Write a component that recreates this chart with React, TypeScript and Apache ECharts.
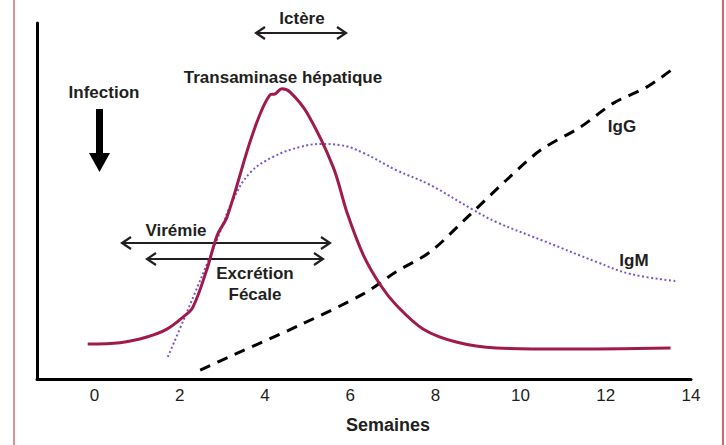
import React, { useEffect, useRef } from "react";
import * as echarts from "echarts";

const weekTicks = [0, 2, 4, 6, 8, 10, 12, 14];

const transaminase: [number, number][] = [
  [-0.16, 9.8], [0.6, 10.2], [1.23, 11.8], [1.7, 14.0], [2.08, 17.4], [2.31, 20.2],
  [2.64, 30.9], [2.88, 40.4], [3.11, 45.5], [3.72, 69.1], [4.12, 79.8], [4.24, 80.1],
  [4.4, 81.5], [4.59, 80.6], [4.99, 74.7], [5.6, 59.6], [5.93, 46.6], [6.31, 34.8],
  [6.71, 26.4], [7.08, 20.8], [7.72, 14.0], [8.49, 10.4], [9.43, 8.7], [11.0, 8.4],
  [13.52, 8.7],
];

const igm: [number, number][] = [
  [1.72, 6.2], [2.12, 17.4], [2.88, 39.3], [3.25, 50.3], [3.65, 57.9], [4.19, 62.4],
  [4.83, 65.2], [5.3, 66.0], [5.77, 65.7], [6.31, 63.5], [7.08, 58.7], [7.88, 54.5],
  [8.89, 47.5], [9.43, 44.1], [10.6, 38.5], [11.78, 32.9], [12.58, 29.5], [13.66, 27.5],
];

const igg: [number, number][] = [
  [2.48, 2.5], [3.25, 6.7], [4.83, 15.2], [6.31, 23.9], [7.08, 30.1], [7.88, 35.7],
  [8.66, 44.4], [9.67, 55.9], [10.47, 64.3], [11.41, 70.8], [12.18, 77.5],
  [12.96, 82.0], [13.54, 86.8],
];

const FONT = "'Liberation Sans', Arial, sans-serif";
const TXT = "#231f20";

function dArrow(x1: number, x2: number, y: number) {
  const h = 6;
  const w = 9;
  const st = { stroke: TXT, lineWidth: 2.2, fill: "none" };
  return [
    { type: "line", shape: { x1, y1: y, x2, y2: y }, style: st },
    { type: "polyline", shape: { points: [[x1 + w, y - h], [x1, y], [x1 + w, y + h]] }, style: st },
    { type: "polyline", shape: { points: [[x2 - w, y - h], [x2, y], [x2 - w, y + h]] }, style: st },
  ];
}

function label(text: string, x: number, y: number, size = 17) {
  return {
    type: "text",
    x,
    y,
    style: {
      text,
      fill: TXT,
      font: `bold ${size}px ${FONT}`,
      textAlign: "center",
      textVerticalAlign: "middle",
    },
  };
}

export default function App() {
  const ref = useRef<HTMLDivElement>(null);
  useEffect(() => {
    document.body.style.margin = "0";
    const chart = echarts.init(ref.current!, null, { renderer: "svg" });
    chart.setOption({
      animation: false,
      backgroundColor: "#ffffff",
      grid: { left: 37, right: 35, top: 23, bottom: 66 },
      xAxis: {
        type: "value",
        min: -1.35,
        max: 14,
        splitLine: { show: false },
        axisLine: { show: true, onZero: false, lineStyle: { color: "#000", width: 3 } },
        axisTick: { show: false },
        axisLabel: {
          customValues: weekTicks,
          color: TXT,
          fontFamily: FONT,
          fontSize: 17,
          margin: 8,
        },
      },
      yAxis: {
        type: "value",
        min: 0,
        max: 100,
        splitLine: { show: false },
        axisLine: { show: true, onZero: false, lineStyle: { color: "#000", width: 3 } },
        axisTick: { show: false },
        axisLabel: { show: false },
      },
      series: [
        {
          name: "IgM",
          type: "line",
          data: igm,
          smooth: 0.4,
          showSymbol: false,
          lineStyle: { color: "#7b55c9", width: 2, type: [2, 2.5] },
          z: 2,
        },
        {
          name: "IgG",
          type: "line",
          data: igg,
          smooth: 0.3,
          showSymbol: false,
          lineStyle: { color: "#000", width: 3, type: [11, 8] },
          z: 3,
        },
        {
          name: "Transaminase hépatique",
          type: "line",
          data: transaminase,
          smooth: 0.35,
          showSymbol: false,
          lineStyle: { color: "#a01a4c", width: 3 },
          z: 4,
        },
      ],
      graphic: [
        { type: "line", shape: { x1: 14, y1: 0, x2: 14, y2: 445 }, style: { stroke: "#d26a78", lineWidth: 1.5 } },
        { type: "line", shape: { x1: 723, y1: 0, x2: 723, y2: 445 }, style: { stroke: "#cc2a38", lineWidth: 1.5 } },
        label("Ictère", 302, 18),
        ...dArrow(256, 346, 33),
        label("Transaminase hépatique", 283, 77),
        label("Infection", 104, 92),
        { type: "rect", shape: { x: 96, y: 109, width: 7, height: 46 }, style: { fill: "#000" } },
        { type: "polygon", shape: { points: [[89, 153], [110, 153], [99.5, 172]] }, style: { fill: "#000" } },
        label("Virémie", 176, 230),
        ...dArrow(122, 330, 243),
        ...dArrow(147, 323, 259),
        label("Excrétion", 255, 273),
        label("Fécale", 255, 294),
        label("IgG", 622, 126),
        label("IgM", 634, 260),
        label("Semaines", 388, 425, 18),
      ],
    });
    return () => chart.dispose();
  }, []);
  return <div ref={ref} style={{ width: 726, height: 445 }} />;
}
